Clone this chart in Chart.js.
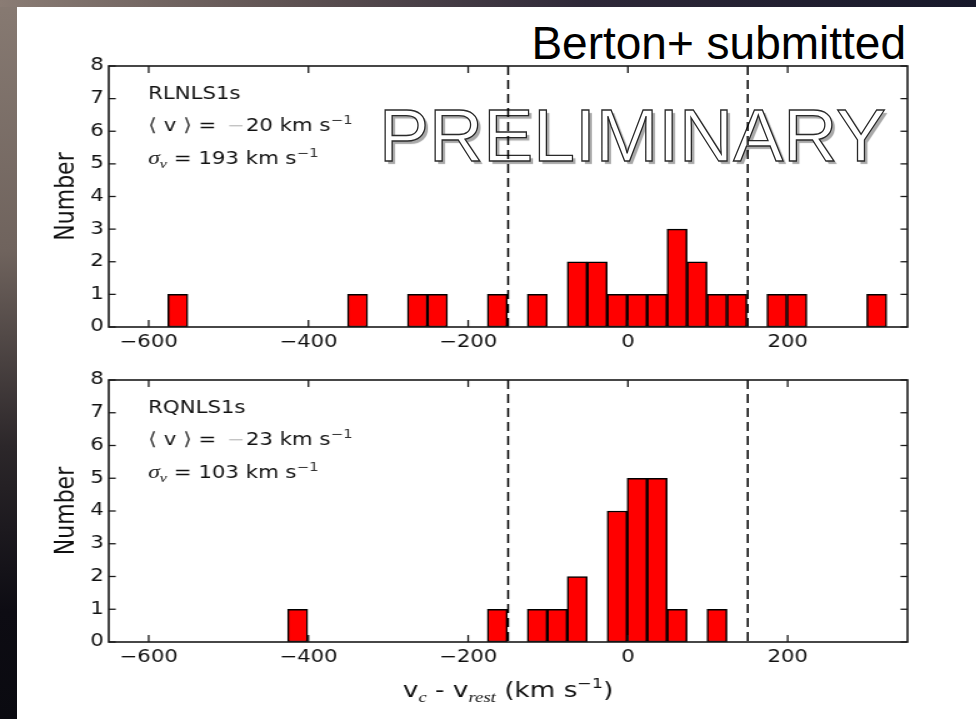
<!DOCTYPE html>
<html>
<head>
<meta charset="utf-8">
<script src="https://cdn.jsdelivr.net/npm/chart.js@4.4.1/dist/chart.umd.min.js"></script>
<style>
  html, body { margin:0; padding:0; }
  body { width:976px; height:719px; overflow:hidden; position:relative;
    background: linear-gradient(180deg, #877a72 0%, #6f635d 35%, #2c272a 62%, #0d0c13 85%, #0a0a10 100%); }
  #topstrip { position:absolute; left:0; top:0; width:976px; height:7px;
    background: linear-gradient(90deg, #8a7c74 0%, #5e5252 30%, #2e2838 60%, #17182a 100%); }
  #panel { position:absolute; left:17px; top:7px; width:959px; height:712px; background:#fff; }
  #berton { position:absolute; right:70px; top:20px; font-family:"Liberation Sans", Arial, sans-serif;
    font-size:46px; line-height:46px; color:#000; white-space:nowrap; }
  #prelim { position:absolute; left:379px; top:98px; font-family:"Liberation Sans", Arial, sans-serif;
    font-size:75px; line-height:75px; color:#fff; -webkit-text-stroke:1.3px #2a2a2a;
    text-shadow: 3px 3px 1px #a8a8a8; white-space:nowrap; }
  .wrap { position:absolute; left:0; transform:scaleX(1.25); transform-origin:0 0; }
  canvas { display:block; }
</style>
</head>
<body>
<div id="topstrip"></div>
<div id="panel"></div>
<div id="berton">Berton+ submitted</div>
<div id="prelim">PRELIMINARY</div>
<div class="wrap" style="top:7px"><canvas id="c1" width="781" height="353"></canvas></div>
<div class="wrap" style="top:360px"><canvas id="c2" width="781" height="359"></canvas></div>
<script>
// ---- data (25 km/s bins) ----
const binCenters = [-563.5, -538.5, -513.5, -488.5, -463.5, -438.5, -413.5, -388.5, -363.5, -338.5,
                    -313.5, -288.5, -263.5, -238.5, -213.5, -188.5, -163.5, -138.5, -113.5, -88.5,
                    -63.5, -38.5, -13.5, 11.5, 36.5, 61.5, 86.5, 111.5, 136.5, 161.5,
                    186.5, 211.5, 236.5, 261.5, 286.5, 311.5];
const rlCounts = [1,0,0,0,0,0,0,0,0,1, 0,0,1,1,0,0,1,0,1,0, 2,2,1,1,1,3,2,1,1,0, 1,1,0,0,0,1];
const rqCounts = [0,0,0,0,0,0,1,0,0,0, 0,0,0,0,0,0,1,0,1,1, 2,0,4,5,5,1,0,1,0,0, 0,0,0,0,0,0];
const xTickValues = [-600, -400, -200, 0, 200];
const yTickValues = [0, 1, 2, 3, 4, 5, 6, 7, 8];
const velocityCuts = [-150, 150];
const sampleNames = ['RLNLS1s', 'RQNLS1s'];
const meanVel = ['20', '23'];
const sigmaVel = ['193', '103'];

const INK = '#111';
const SANS = '"DejaVu Sans", sans-serif';
const SERIF = '"Liberation Serif", "DejaVu Serif", serif';

function runsWidth(ctx, runs) {
  let w = 0;
  for (const r of runs) { ctx.font = r.f; w += ctx.measureText(r.t).width + (r.sp || 0); }
  return w;
}
function drawRuns(ctx, x, y, runs) {
  for (const r of runs) {
    ctx.font = r.f; ctx.fillStyle = r.c || INK;
    ctx.fillText(r.t, x, y + (r.dy || 0));
    x += ctx.measureText(r.t).width + (r.sp || 0);
  }
}

const framePlugin = {
  id: 'frame',
  afterDatasetsDraw(chart, args, o) {
    const {ctx, chartArea: a, scales: {x, y}} = chart;
    ctx.save();
    ctx.strokeStyle = '#000';
    const seg = (x1, y1, x2, y2) => { ctx.beginPath(); ctx.moveTo(x1, y1); ctx.lineTo(x2, y2); ctx.stroke(); };
    // dashed velocity cuts
    ctx.lineWidth = 1.5; ctx.setLineDash([9, 5]);
    velocityCuts.forEach(v => { const px = x.getPixelForValue(v); seg(px, a.top, px, a.bottom); });
    ctx.setLineDash([]);
    // frame
    ctx.strokeStyle = '#1a1a1a';
    ctx.lineWidth = 1.6;
    ctx.strokeRect(a.left, a.top, a.right - a.left, a.bottom - a.top);
    // inward ticks on all sides
    ctx.lineWidth = 1.3;
    x.ticks.forEach(t => { const px = x.getPixelForValue(t.value); seg(px, a.bottom, px, a.bottom - 7); seg(px, a.top, px, a.top + 7); });
    y.ticks.forEach(t => { const py = y.getPixelForValue(t.value); seg(a.left, py, a.left + 5.6, py); seg(a.right, py, a.right - 5.6, py); });
    // annotation
    const i = o.idx;
    const tx = a.left + 31.5;
    const f17 = '17px ' + SANS, f12 = '12px ' + SANS;
    ctx.textBaseline = 'alphabetic'; ctx.textAlign = 'left';
    drawRuns(ctx, tx, a.top + 33, [{t: sampleNames[i], f: f17}]);
    drawRuns(ctx, tx, a.top + 64.5, [
      {t: '\u27E8', f: '18px ' + SANS, c: '#333'},
      {t: ' v ', f: f17},
      {t: '\u27E9', f: '18px ' + SANS, c: '#333'},
      {t: ' = ', f: f17, sp: 3},
      {t: '\u2212', f: f17, c: '#c4c4c4', sp: 1},
      {t: meanVel[i] + ' km s', f: f17},
      {t: '\u22121', f: f12, dy: -7, c: '#333'}
    ]);
    drawRuns(ctx, tx, a.top + 97.5, [
      {t: '\u03C3', f: 'italic 19px ' + SERIF},
      {t: 'v', f: 'italic 13px ' + SERIF, dy: 4},
      {t: ' = ' + sigmaVel[i] + ' km s', f: f17},
      {t: '\u22121', f: f12, dy: -7, c: '#333'}
    ]);
    if (o.xTitle) {
      const f21 = '21px ' + SANS, s15 = 'italic 15px ' + SERIF;
      const runs = [
        {t: 'v', f: f21}, {t: 'c', f: s15, dy: 5},
        {t: ' - v', f: f21}, {t: 'rest', f: s15, dy: 5},
        {t: ' (km s', f: f21}, {t: '\u22121', f: '14px ' + SANS, dy: -9}, {t: ')', f: f21}
      ];
      const w = runsWidth(ctx, runs);
      drawRuns(ctx, (a.left + a.right) / 2 - w / 2, o.xTitleY, runs);
    }
    ctx.restore();
  }
};

function fmtTick(v) { return v < 0 ? '\u2212' + Math.abs(v) : String(v); }

function makeChart(id, counts, idx, padTop, xAxisH, xTitle, xTitleY) {
  const data = binCenters.map((c, k) => ({x: c, y: counts[k] > 0 ? counts[k] : null}));
  return new Chart(document.getElementById(id), {
    type: 'bar',
    data: { datasets: [{
      data,
      backgroundColor: '#ff0000',
      borderColor: '#000',
      borderWidth: 1.5,
      borderSkipped: false,
      barPercentage: 1.0,
      categoryPercentage: 1.0
    }]},
    options: {
      responsive: false,
      animation: false,
      events: [],
      layout: { padding: { left: 0, right: 55, top: padTop, bottom: 0 } },
      plugins: { legend: { display: false }, tooltip: { enabled: false },
                 frame: { idx, xTitle, xTitleY } },
      scales: {
        x: {
          type: 'linear', min: -650, max: 350, offset: false,
          afterBuildTicks: s => { s.ticks = xTickValues.map(v => ({value: v})); },
          afterFit: s => { s.height = xAxisH; },
          ticks: { color: INK, padding: 5, maxRotation: 0, autoSkip: false,
                   font: { family: SANS, size: 17 }, callback: v => fmtTick(v) },
          grid: { display: false, drawTicks: false, offset: false },
          border: { display: false }
        },
        y: {
          min: 0, max: 8,
          afterBuildTicks: s => { s.ticks = yTickValues.map(v => ({value: v})); },
          afterFit: s => { s.width = 87; },
          ticks: { color: INK, padding: 4, font: { family: SANS, size: 17 } },
          grid: { display: false, drawTicks: false },
          border: { display: false },
          title: { display: true, text: 'Number', color: INK,
                   font: { family: SANS, size: 22 }, padding: { top: 40, bottom: 0 } }
        }
      }
    },
    plugins: [framePlugin]
  });
}

makeChart('c1', rlCounts, 0, 59, 33, false, 0);
makeChart('c2', rqCounts, 1, 20, 77, true, 337);
</script>
</body>
</html>
